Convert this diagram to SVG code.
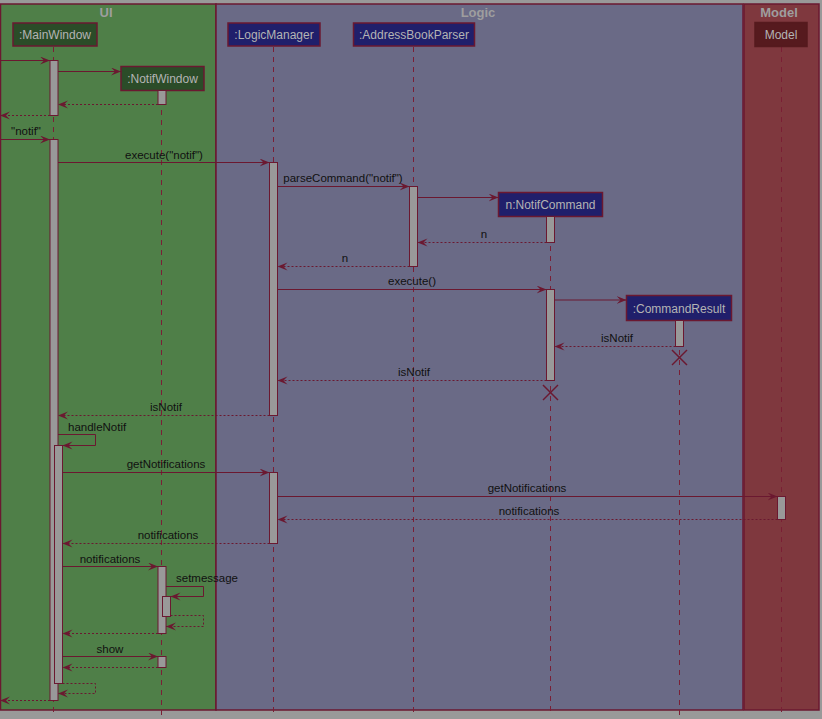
<svg xmlns="http://www.w3.org/2000/svg" width="822" height="719" viewBox="0 0 822 719">
<style>
.lane{stroke:#6b1830;stroke-width:1.5}
.title{font-family:"Liberation Sans",Arial,sans-serif;font-size:13px;font-weight:bold;fill:#9e9e9e;text-anchor:middle}
.pbox{stroke:#6b1830;stroke-width:1.5}
.ui{fill:#2b4c28}
.lg{fill:#201f6b}
.md{fill:#561a1e;stroke:#561a1e}
.ptxt{font-family:"Liberation Sans",Arial,sans-serif;font-size:12px;fill:#b4b4b4;text-anchor:middle}
.life{stroke:#7a1f35;stroke-width:1;stroke-dasharray:5,5;fill:none}
.act{fill:#999999;stroke:#6b1830;stroke-width:1}
.msg{stroke:#6b1830;stroke-width:1;fill:none;marker-end:url(#arr)}
.ret{stroke:#6b1830;stroke-width:1;fill:none;stroke-dasharray:2,2;marker-end:url(#arr)}
.lbl{font-family:"Liberation Sans",Arial,sans-serif;font-size:11.5px;fill:#111111;text-anchor:middle}
.lbls{font-family:"Liberation Sans",Arial,sans-serif;font-size:11.5px;fill:#111111}
.x{stroke:#6b1830;stroke-width:1.5}
</style>
<defs>
<marker id="arr" markerUnits="userSpaceOnUse" markerWidth="11" markerHeight="9" refX="10" refY="4" orient="auto">
<path d="M0,0 L10,4 L0,8 L4,4 Z" fill="#6b1830"/>
</marker>
</defs>
<rect x="0" y="0" width="822" height="719" fill="#999999"/>
<g id="lanes">
<rect class="lane" x="0.5" y="4" width="215.5" height="706" fill="#4f7f48"/>
<rect class="lane" x="216" y="4" width="527" height="706" fill="#6a6a86"/>
<rect class="lane" x="744" y="4" width="75" height="706" fill="#7f383e"/>
<text class="title" x="106" y="17">UI</text>
<text class="title" x="478" y="17">Logic</text>
<text class="title" x="779" y="17">Model</text>
</g>
<g id="lifelines">
<line class="life" x1="53.5" y1="47" x2="53.5" y2="716"/>
<line class="life" x1="161.5" y1="90" x2="161.5" y2="716"/>
<line class="life" x1="273.5" y1="47" x2="273.5" y2="716"/>
<line class="life" x1="413.5" y1="47" x2="413.5" y2="716"/>
<line class="life" x1="550.5" y1="216" x2="550.5" y2="716"/>
<line class="life" x1="679.5" y1="320" x2="679.5" y2="716"/>
<line class="life" x1="781.5" y1="47" x2="781.5" y2="716"/>
</g>
<g id="MainWindow">
<rect class="pbox ui" x="13" y="23" width="84" height="23"/>
<text class="ptxt" x="55" y="39">:MainWindow</text>
<rect class="act" x="50" y="60.5" width="8" height="55"/>
<rect class="act" x="50" y="139.5" width="8" height="561"/>
<rect class="act" x="54.5" y="445.5" width="8" height="238"/>
</g>
<g id="NotifWindow">
<rect class="pbox ui" x="121" y="66.5" width="83" height="24"/>
<text class="ptxt" x="162.5" y="83">:NotifWindow</text>
<rect class="act" x="158" y="90.5" width="8" height="14"/>
<rect class="act" x="158" y="566.5" width="8" height="67"/>
<rect class="act" x="162.5" y="596.5" width="8" height="20"/>
<rect class="act" x="158" y="656.5" width="8" height="11"/>
</g>
<g id="LogicManager">
<rect class="pbox lg" x="228" y="23" width="92" height="23"/>
<text class="ptxt" x="274" y="39">:LogicManager</text>
<rect class="act" x="269.5" y="162.5" width="8" height="253"/>
<rect class="act" x="269.5" y="472.5" width="8" height="71"/>
</g>
<g id="AddressBookParser">
<rect class="pbox lg" x="353.5" y="23" width="121" height="23"/>
<text class="ptxt" x="414" y="39">:AddressBookParser</text>
<rect class="act" x="409.5" y="186.5" width="8" height="80"/>
</g>
<g id="NotifCommand">
<rect class="pbox lg" x="498.5" y="192.5" width="104" height="24"/>
<text class="ptxt" x="550.5" y="209">n:NotifCommand</text>
<rect class="act" x="546.5" y="216.5" width="8" height="26"/>
<rect class="act" x="546.5" y="289.5" width="8" height="91"/>
<line class="x" x1="543" y1="385" x2="558" y2="400"/>
<line class="x" x1="558" y1="385" x2="543" y2="400"/>
</g>
<g id="CommandResult">
<rect class="pbox lg" x="626.5" y="295.5" width="105" height="25"/>
<text class="ptxt" x="679" y="312.5">:CommandResult</text>
<rect class="act" x="675.5" y="320.5" width="8" height="26"/>
<line class="x" x1="672" y1="350" x2="687" y2="365"/>
<line class="x" x1="687" y1="350" x2="672" y2="365"/>
</g>
<g id="Model">
<rect class="pbox md" x="755" y="22.5" width="52" height="24"/>
<text class="ptxt" x="781" y="39">Model</text>
<rect class="act" x="777.5" y="496.5" width="8" height="23"/>
</g>
<g id="connectors">
<line class="msg" x1="0" y1="60.5" x2="50" y2="60.5"/>
<line class="msg" x1="58" y1="71.5" x2="121" y2="71.5"/>
<line class="ret" x1="158" y1="104.5" x2="58" y2="104.5"/>
<line class="ret" x1="50" y1="115.5" x2="0" y2="115.5"/>
<line class="msg" x1="0" y1="139.5" x2="50" y2="139.5"/>
<text class="lbl" x="26" y="135">"notif"</text>
<line class="msg" x1="58" y1="162.5" x2="269.5" y2="162.5"/>
<text class="lbl" x="164" y="159">execute("notif")</text>
<line class="msg" x1="277.5" y1="186.5" x2="409.5" y2="186.5"/>
<text class="lbl" x="343" y="182">parseCommand("notif")</text>
<line class="msg" x1="417.5" y1="197.5" x2="498.5" y2="197.5"/>
<line class="ret" x1="546.5" y1="242.5" x2="417.5" y2="242.5"/>
<text class="lbl" x="484" y="238">n</text>
<line class="ret" x1="409.5" y1="266.5" x2="277.5" y2="266.5"/>
<text class="lbl" x="345" y="262">n</text>
<line class="msg" x1="277.5" y1="289.5" x2="546.5" y2="289.5"/>
<text class="lbl" x="412" y="285">execute()</text>
<line class="msg" x1="554.5" y1="300" x2="626.5" y2="300"/>
<line class="ret" x1="675.5" y1="346.5" x2="554.5" y2="346.5"/>
<text class="lbl" x="617" y="342">isNotif</text>
<line class="ret" x1="546.5" y1="380.5" x2="277.5" y2="380.5"/>
<text class="lbl" x="414" y="376">isNotif</text>
<line class="ret" x1="269.5" y1="415.5" x2="58" y2="415.5"/>
<text class="lbl" x="166" y="411">isNotif</text>
<path class="msg" d="M58,434.5 H95.5 V445.5 H62.5"/>
<text class="lbls" x="68" y="431">handleNotif</text>
<line class="msg" x1="62.5" y1="472.5" x2="269.5" y2="472.5"/>
<text class="lbl" x="166" y="468">getNotifications</text>
<line class="msg" x1="277.5" y1="496.5" x2="777.5" y2="496.5"/>
<text class="lbl" x="527" y="492">getNotifications</text>
<line class="ret" x1="777.5" y1="519.5" x2="277.5" y2="519.5"/>
<text class="lbl" x="529" y="515">notifications</text>
<line class="ret" x1="269.5" y1="543.5" x2="62.5" y2="543.5"/>
<text class="lbl" x="168" y="539">notifications</text>
<line class="msg" x1="62.5" y1="566.5" x2="158" y2="566.5"/>
<text class="lbl" x="110" y="563">notifications</text>
<path class="msg" d="M166,586.5 H203.5 V596.5 H170.5"/>
<text class="lbls" x="176" y="582">setmessage</text>
<path class="ret" d="M170.5,615.5 H203.5 V626.5 H166"/>
<line class="ret" x1="158" y1="633.5" x2="62.5" y2="633.5"/>
<line class="msg" x1="62.5" y1="656.5" x2="158" y2="656.5"/>
<text class="lbl" x="110" y="653">show</text>
<line class="ret" x1="158" y1="667.5" x2="62.5" y2="667.5"/>
<path class="ret" d="M62.5,683.5 H95.5 V693.5 H58"/>
<line class="ret" x1="50" y1="700.5" x2="0" y2="700.5"/>
</g>
</svg>
